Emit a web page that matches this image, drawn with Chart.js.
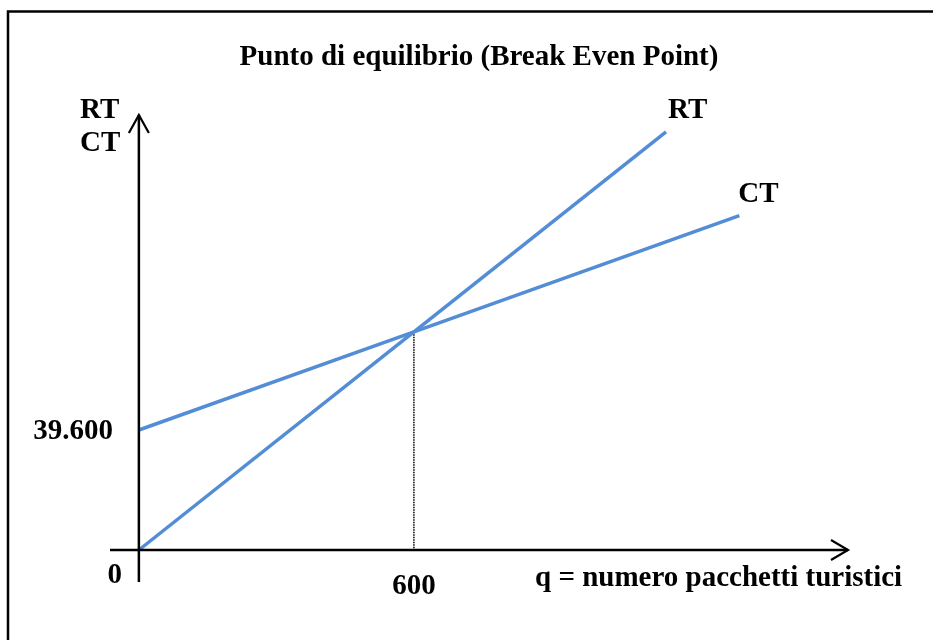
<!DOCTYPE html>
<html>
<head>
<meta charset="utf-8">
<script src="https://cdn.jsdelivr.net/npm/chart.js@4/dist/chart.umd.min.js"></script>
<style>
  html, body { margin: 0; padding: 0; background: #fff; }
  #wrap { width: 933px; height: 640px; }
  canvas { display: block; }
</style>
</head>
<body>
<div id="wrap"><canvas id="bep" width="933" height="640"></canvas></div>
<script>
// quantities (pacchetti) and values
const rtQ = [0, 600, 1150];
const rtValues = [0, 72000, 138000];
const ctQ = [0, 600, 1310];
const ctValues = [39600, 72000, 110340];
const breakEvenQ = 600;
const fixedCost = 39600;

const titleText = 'Punto di equilibrio (Break Even Point)';
const xAxisTitle = 'q = numero pacchetti turistici';
const yAxisTitle = ['RT', 'CT'];

const lineBlue = '#538dd5';
const fontFam = '"Liberation Serif", "Times New Roman", serif';

function toPoints(xs, ys) {
  return xs.map(function (x, i) { return { x: x, y: ys[i] }; });
}

function itFormat(n) {
  return String(n).replace(/\B(?=(\d{3})+(?!\d))/g, '.');
}

// axes with arrows, labels and the frame
const diagramPlugin = {
  id: 'diagram',
  beforeDraw(chart) {
    const c = chart.ctx;
    c.save();
    c.strokeStyle = '#000';
    c.lineWidth = 2.5;
    c.beginPath();
    c.moveTo(8, 640);
    c.lineTo(8, 11.5);
    c.lineTo(933, 11.5);
    c.stroke();
    c.restore();
  },
  afterDatasetsDraw(chart) {
    const c = chart.ctx;
    const xs = chart.scales.x, ys = chart.scales.y;
    const area = chart.chartArea;
    const ox = xs.getPixelForValue(0);
    const oy = ys.getPixelForValue(0);

    c.save();
    c.strokeStyle = '#000';
    c.lineWidth = 2.5;
    c.lineCap = 'butt';
    c.beginPath();
    // y axis
    c.moveTo(ox, area.bottom);
    c.lineTo(ox, area.top);
    // x axis
    c.moveTo(area.left, oy);
    c.lineTo(area.right, oy);
    c.stroke();

    c.lineWidth = 2.2;
    c.beginPath();
    c.moveTo(ox - 10, area.top + 18);
    c.lineTo(ox, area.top);
    c.lineTo(ox + 10, area.top + 18);
    c.moveTo(area.right - 17, oy - 10);
    c.lineTo(area.right, oy);
    c.lineTo(area.right - 17, oy + 10);
    c.stroke();

    c.fillStyle = '#000';
    c.font = 'bold 29px ' + fontFam;
    c.textBaseline = 'middle';

    // tick labels
    c.textAlign = 'right';
    c.fillText(itFormat(fixedCost), ox - 26, ys.getPixelForValue(fixedCost) + 2);
    c.fillText('0', ox - 17, oy + 26);
    c.textAlign = 'center';
    c.fillText(String(breakEvenQ), xs.getPixelForValue(breakEvenQ) + 0, oy + 37);

    // axis titles
    c.textAlign = 'left';
    c.fillText(xAxisTitle, 535, oy + 29);
    c.fillText(yAxisTitle[0], 80, 111);
    c.fillText(yAxisTitle[1], 80, 144);

    // line labels near the ends
    const rtEnd = chart.getDatasetMeta(0).data[rtQ.length - 1];
    const ctEnd = chart.getDatasetMeta(1).data[ctQ.length - 1];
    c.fillText('RT', rtEnd.x + 2, rtEnd.y - 21);
    c.fillText('CT', ctEnd.x - 1, ctEnd.y - 21);
    c.restore();
  }
};

new Chart(document.getElementById('bep'), {
  type: 'scatter',
  data: {
    datasets: [
      {
        label: 'RT',
        data: toPoints(rtQ, rtValues),
        showLine: true,
        borderColor: lineBlue,
        borderWidth: 3.5,
        pointRadius: 0,
        order: 1
      },
      {
        label: 'CT',
        data: toPoints(ctQ, ctValues),
        showLine: true,
        borderColor: lineBlue,
        borderWidth: 3.5,
        pointRadius: 0,
        order: 1
      },
      {
        label: 'q*',
        data: toPoints([breakEvenQ, breakEvenQ], [rtValues[1], 0]),
        showLine: true,
        borderColor: '#000',
        borderWidth: 1.5,
        borderDash: [1.5, 1],
        pointRadius: 0,
        order: 2
      }
    ]
  },
  options: {
    responsive: false,
    animation: false,
    devicePixelRatio: 1,
    layout: { padding: { left: 110, right: 85, top: 11, bottom: 58 } },
    scales: {
      x: { type: 'linear', min: -63, max: 1547, display: false },
      y: { type: 'linear', min: -10560, max: 143550, display: false }
    },
    plugins: {
      legend: { display: false },
      tooltip: { enabled: false },
      title: {
        display: true,
        text: titleText,
        color: '#000',
        font: { family: fontFam, size: 29, weight: 'bold' },
        padding: { top: 29.6, bottom: 39.6 }
      }
    }
  },
  plugins: [diagramPlugin]
});
</script>
</body>
</html>
